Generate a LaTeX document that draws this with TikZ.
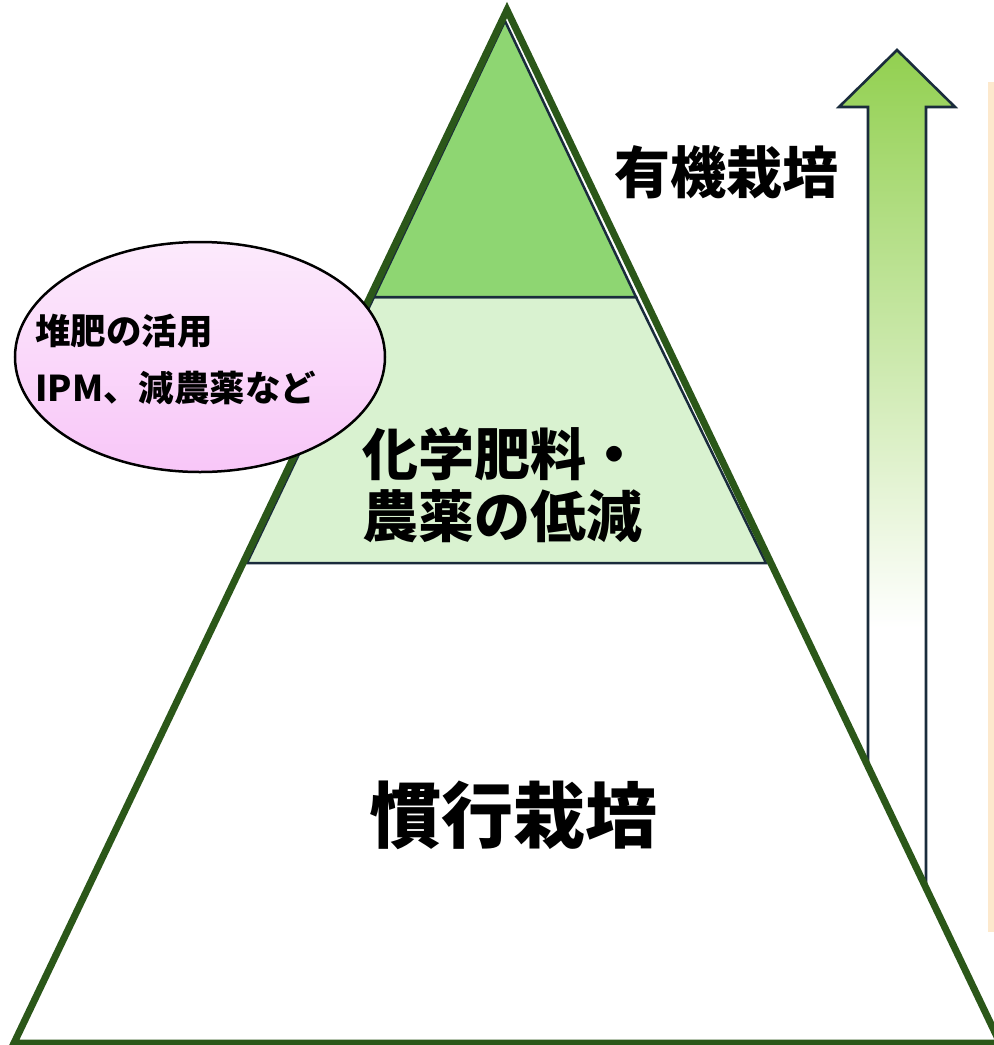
\documentclass[tikz,border=0pt]{standalone}
\usepackage{fontspec}
\setmainfont{Noto Sans CJK JP}
\usetikzlibrary{shapes.geometric}
\definecolor{outergreen}{HTML}{2B5719}
\definecolor{navy}{HTML}{1A2C3C}
\definecolor{topgreen}{HTML}{8ED672}
\definecolor{midgreen}{HTML}{D9F2D0}
\definecolor{arrowgreen}{HTML}{92D050}
\definecolor{beige}{HTML}{FDE9CD}
\definecolor{pinktop}{HTML}{FCEAFC}
\definecolor{pinkbot}{HTML}{F8C6F8}
\pgfdeclareverticalshading{arrowshade}{100bp}{color(0bp)=(white); color(41bp)=(white); color(75bp)=(arrowgreen); color(100bp)=(arrowgreen)}
\tikzset{
  lbl/.style={font=\bfseries\fontsize{56}{62}\selectfont, inner sep=0pt},
  smalllbl/.style={font=\bfseries\fontsize{35.5}{40}\selectfont, inner sep=0pt, anchor=west},
  innerline/.style={draw=navy, line width=2.5pt},
}
\begin{document}
\begin{tikzpicture}[x=1pt,y=-1pt]
\useasboundingbox (0,0) rectangle (994,1045);
% beige strip
\fill[beige] (988,82) rectangle (996,932);
% arrow
\draw[navy, line width=2.6pt, shading=arrowshade]
  (868,900) -- (868,107) -- (839,107) -- (897,50) -- (955,107) -- (926,107) -- (926,900) -- cycle;
% outer triangle fill
\fill[white] (507,10) -- (14,1043) -- (1000,1043) -- cycle;
% inner shapes
\draw[innerline, fill=midgreen] (374,297) -- (636,297) -- (766,563) -- (247,563) -- cycle;
\draw[innerline, fill=topgreen] (505,21) -- (374,297) -- (636,297) -- cycle;
% outer triangle stroke
\draw[outergreen, line width=7pt, line join=miter] (507,10) -- (14,1043) -- (1000,1043) -- cycle;
% ellipse
\node[ellipse, draw=black, line width=2.5pt, top color=pinktop, bottom color=pinkbot,
  minimum width=370pt, minimum height=230pt, inner sep=0pt] (ell) at (200,357) {};
\node[smalllbl] (t1) at (35,331) {堆肥の活用};
\node[smalllbl] (t2) at (35,388) {IPM、減農薬など};
% labels
\node[lbl] (organic) at (726,172) {有機栽培};
\node[lbl, align=left] (reduce) at (502,485) {化学肥料・\\農薬の低減};
\node[lbl, font=\bfseries\fontsize{72}{80}\selectfont] (conv) at (513,815) {慣行栽培};
\end{tikzpicture}
\end{document}
